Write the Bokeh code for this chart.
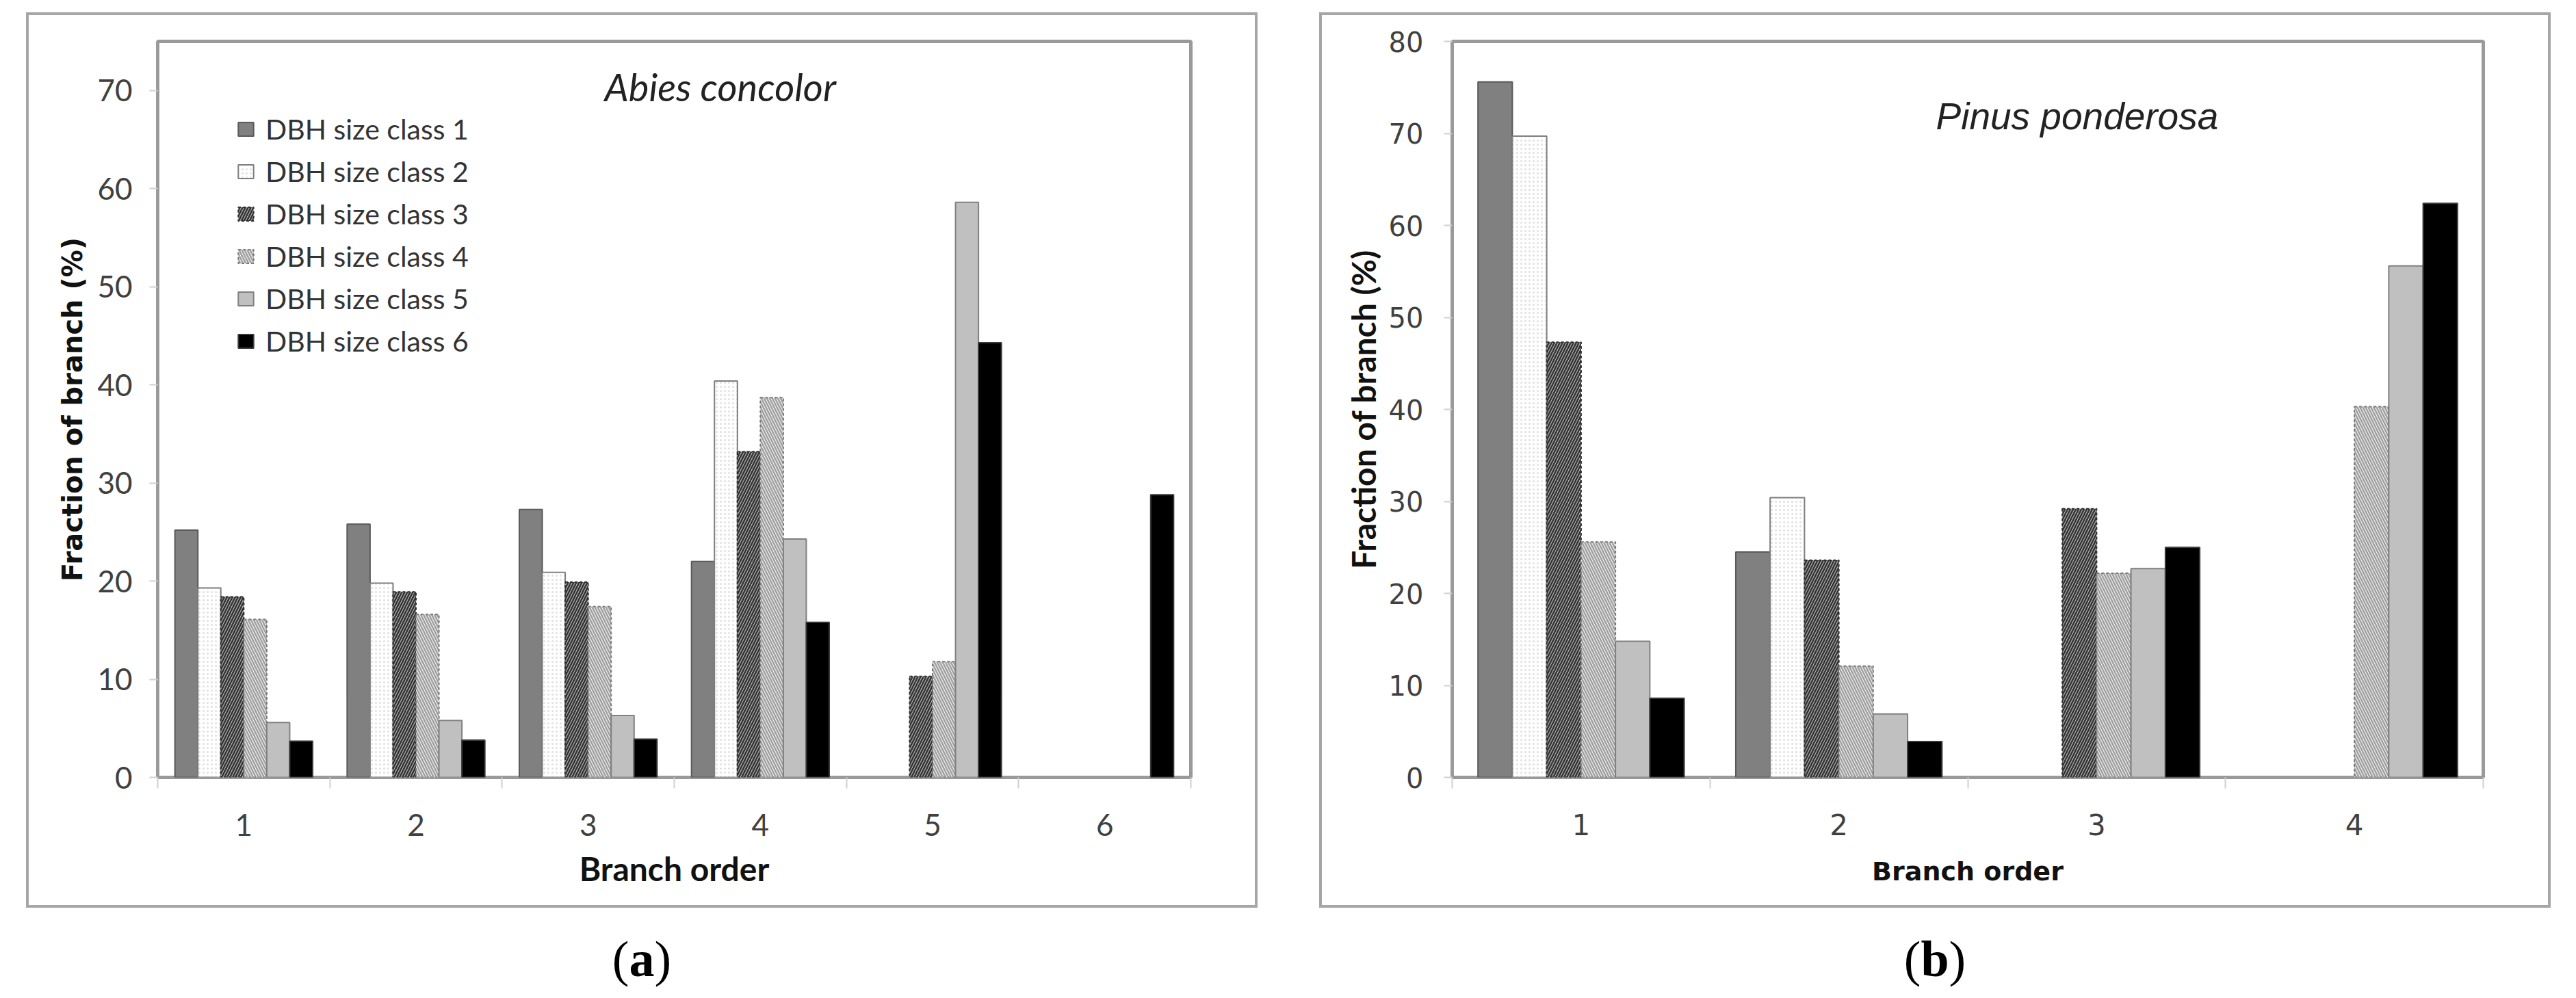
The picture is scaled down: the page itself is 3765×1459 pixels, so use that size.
from bokeh.plotting import figure
from bokeh.layouts import row, column
from bokeh.models import (Range1d, FixedTicker, Legend, LegendItem, Label,
                          ColumnDataSource, Div)
from bokeh.transform import dodge
from bokeh.embed import file_html
from bokeh.resources import INLINE

# ---------------- data ----------------
class_names = ["DBH size class 1", "DBH size class 2", "DBH size class 3",
               "DBH size class 4", "DBH size class 5", "DBH size class 6"]

# (a) Abies concolor  (None = no bar)
orders_a = [1, 2, 3, 4, 5, 6]
a_class1 = [25.2, 25.8, 27.3, 22.0, None, None]
a_class2 = [19.3, 19.8, 20.9, 40.4, None, None]
a_class3 = [18.4, 18.9, 19.9, 33.2, 10.3, None]
a_class4 = [16.1, 16.6, 17.4, 38.7, 11.8, None]
a_class5 = [5.6, 5.8, 6.3, 24.3, 58.6, None]
a_class6 = [3.7, 3.8, 3.9, 15.8, 44.3, 28.8]
y_ticks_a = [0, 10, 20, 30, 40, 50, 60, 70]

# (b) Pinus ponderosa
orders_b = [1, 2, 3, 4]
b_class1 = [75.6, 24.5, None, None]
b_class2 = [69.7, 30.4, None, None]
b_class3 = [47.3, 23.6, 29.2, None]
b_class4 = [25.6, 12.1, 22.2, 40.3]
b_class5 = [14.8, 6.9, 22.7, 55.6]
b_class6 = [8.6, 3.9, 25.0, 62.4]
y_ticks_b = [0, 10, 20, 30, 40, 50, 60, 70, 80]

# ---------------- styles ----------------
STYLES = [
    dict(fill_color="#808080", line_color="#5a5a5a", line_width=2),
    dict(fill_color="#ffffff", line_color="#7f7f7f", line_width=2,
         hatch_pattern=".", hatch_color="#e0e0e0", hatch_scale=6),
    dict(fill_color="#b4b4b4", line_color="#303030", line_width=2, line_dash="4 3",
         hatch_pattern="/", hatch_color="#333333", hatch_scale=8, hatch_weight=2.5),
    dict(fill_color="#f4f4f4", line_color="#7a7a7a", line_width=2, line_dash="4 3",
         hatch_pattern="\\", hatch_color="#a0a0a0", hatch_scale=8, hatch_weight=2.5),
    dict(fill_color="#c0c0c0", line_color="#808080", line_width=2),
    dict(fill_color="#000000", line_color="#3a3a3a", line_width=2),
]
BAR_W = 0.8 / 6
BOX_SHADOW = "0 0 0 4px #a6a6a6"
TICK_COLOR = "#404040"

PAGE = 8
# outer boxes (page px, inner edge of the grey border)
BOX_TOP, BOX_BOTTOM = 30, 1331
BOX_A = (50, 1842)
BOX_B = (1940, 3732)
FW = BOX_A[1] - BOX_A[0]
FH = BOX_BOTTOM - BOX_TOP


def make_panel(orders, series, y_ticks, y_max, box, frame, fonts, margin):
    l, r, t, b = frame
    bx0, bx1 = box
    x0, x1 = orders[0] - 0.5, orders[-1] + 0.5
    p = figure(width=FW, height=FH, x_range=Range1d(x0, x1), y_range=Range1d(0, y_max),
               output_backend="svg", toolbar_location=None,
               min_border_left=l - bx0, min_border_right=bx1 - r,
               min_border_top=t - BOX_TOP, min_border_bottom=BOX_BOTTOM - b,
               margin=margin, styles={"box-shadow": BOX_SHADOW})
    p.background_fill_color = "white"
    p.border_fill_color = "white"
    p.outline_line_color = "#9a9a9a"
    p.outline_line_width = 5
    p.xgrid.visible = False
    p.ygrid.visible = False

    data = dict(order=orders)
    for i, s in enumerate(series):
        data["c%d" % i] = [float("nan") if v is None else v for v in s]
    src = ColumnDataSource(data)
    renderers = []
    for i in range(len(series)):
        off = (i - (len(series) - 1) / 2) * BAR_W
        rr = p.vbar(x=dodge("order", off), top="c%d" % i, bottom=0, width=BAR_W,
                    source=src, **STYLES[i])
        renderers.append(rr)

    minor = [o - 0.5 for o in orders] + [orders[-1] + 0.5]
    xa = p.xaxis[0]
    xa.ticker = FixedTicker(ticks=orders, minor_ticks=minor)
    xa.major_tick_out = 0
    xa.major_tick_in = 0
    xa.minor_tick_out = 16
    xa.minor_tick_in = 0
    xa.minor_tick_line_color = "#d0d0d0"
    xa.minor_tick_line_width = 2
    xa.axis_line_color = None
    xa.major_label_standoff = 37
    xa.major_label_text_font = fonts["tick"]
    xa.major_label_text_font_size = fonts["xtick_size"]
    xa.major_label_text_color = TICK_COLOR
    xa.axis_label = "Branch order"
    xa.axis_label_text_font = fonts["xtitle"]
    xa.axis_label_text_font_size = fonts["xtitle_size"]
    xa.axis_label_text_font_style = "bold"
    xa.axis_label_text_color = "#111111"
    xa.axis_label_standoff = fonts["xtitle_standoff"]

    ya = p.yaxis[0]
    ya.ticker = FixedTicker(ticks=y_ticks)
    ya.major_tick_out = 12
    ya.major_tick_in = 0
    ya.major_tick_line_color = "#d0d0d0"
    ya.major_tick_line_width = 2
    ya.minor_tick_line_color = None
    ya.axis_line_color = None
    ya.major_label_standoff = fonts["ytick_standoff"]
    ya.major_label_text_font = fonts["tick"]
    ya.major_label_text_font_size = fonts["ytick_size"]
    ya.major_label_text_color = TICK_COLOR
    ya.axis_label = "Fraction of branch (%)"
    ya.axis_label_text_font = fonts["ytitle"]
    ya.axis_label_text_font_size = fonts["ytitle_size"]
    ya.axis_label_text_font_style = "bold"
    ya.axis_label_text_color = "#111111"
    ya.axis_label_standoff = fonts["ytitle_standoff"]

    def dx(px):
        return x0 + (px - l) / (r - l) * (x1 - x0)

    def dy(py):
        return (b - py) / (b - t) * y_max

    return p, renderers, dx, dy


# ---------------- panel (a) ----------------
FA = (238, 1748, 68, 1144)
fa, rend_a, dxa, dya = make_panel(
    orders_a, [a_class1, a_class2, a_class3, a_class4, a_class5, a_class6],
    y_ticks_a, 75, BOX_A, FA,
    dict(tick="Lato", xtick_size="44px", ytick_size="44px", ytick_standoff=25,
         xtitle="Lato", xtitle_size="48px", xtitle_standoff=16,
         ytitle="DejaVu Sans", ytitle_size="40px", ytitle_standoff=10),
    margin=(BOX_TOP - PAGE, 0, 0, BOX_A[0] - PAGE))

legend = Legend(items=[LegendItem(label=n, renderers=[rr]) for n, rr in zip(class_names, rend_a)],
                location=(115, 613), glyph_width=28, glyph_height=25, label_standoff=15,
                spacing=13, padding=0, margin=0, border_line_color=None,
                background_fill_alpha=0, label_text_font="Lato",
                label_text_font_size="41px", label_height=48, label_text_color="#333333")
fa.add_layout(legend)

fa.add_layout(Label(x=dxa(891), y=dya(134), text="Abies concolor", text_font="Lato",
                    text_font_style="italic", text_font_size="56px", text_color="#222222",
                    text_align="left", text_baseline="alphabetic"))

# ---------------- panel (b) ----------------
FB = (2130, 3637, 68, 1144)
fb, rend_b, dxb, dyb = make_panel(
    orders_b, [b_class1, b_class2, b_class3, b_class4, b_class5, b_class6],
    y_ticks_b, 80, BOX_B, FB,
    dict(tick="DejaVu Sans", xtick_size="42px", ytick_size="40px", ytick_standoff=30,
         xtitle="DejaVu Sans", xtitle_size="38px", xtitle_standoff=28,
         ytitle="Lato", ytitle_size="48px", ytitle_standoff=6),
    margin=(BOX_TOP - PAGE, 0, 0, BOX_B[0] - BOX_A[1]))

fb.add_layout(Label(x=dxb(2837), y=dyb(177), text="Pinus ponderosa", text_font="Liberation Sans",
                    text_font_style="italic", text_font_size="55px", text_color="#222222",
                    text_align="left", text_baseline="alphabetic"))

# ---------------- captions ----------------
CAP_STYLE = {"font-family": "Liberation Serif", "font-size": "74px", "line-height": "74px",
             "text-align": "center", "color": "black"}
cap_a = Div(text="(<b>a</b>)", width=FW, height=80, styles=CAP_STYLE,
            margin=(42, 0, 0, BOX_A[0] - PAGE))
cap_b = Div(text="(<b>b</b>)", width=FW, height=80, styles=CAP_STYLE,
            margin=(42, 0, 0, BOX_B[0] - BOX_A[1]))

layout = column(row(fa, fb, spacing=0), row(cap_a, cap_b, spacing=0), spacing=0)
open("out.html", "w").write(file_html(layout, INLINE))
